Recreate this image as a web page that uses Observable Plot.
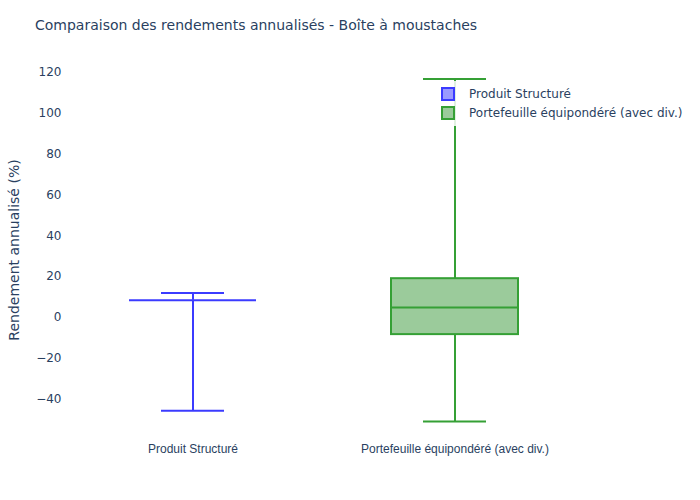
<!DOCTYPE html>
<html>
<head>
<meta charset="utf-8">
<script src="https://cdn.jsdelivr.net/npm/d3@7"></script>
<script src="https://cdn.jsdelivr.net/npm/@observablehq/plot@0.6"></script>
<style>
  body { margin:0; width:700px; height:500px; position:relative; background:#fff; font-family:"DejaVu Sans", sans-serif; overflow:hidden; }
  #title { position:absolute; left:35px; top:16px; font-size:14px; line-height:18px; color:#2a3f5f; white-space:nowrap; }
  #chart { position:absolute; left:0; top:45px; }
  #legend { position:absolute; left:435px; top:81px; width:262px; padding:3px 0 4px 0; background:rgba(255,255,255,0.85); font-size:12px; color:#2a3f5f; }
  .item { display:flex; align-items:center; height:19px; }
  .sw { width:10px; height:10px; margin-left:6px; margin-right:14px; border:2px solid; box-sizing:content-box; }
</style>
</head>
<body>
<div id="title">Comparaison des rendements annualisés - Boîte à moustaches</div>
<div id="chart"></div>
<div id="legend"></div>
<script>
const categories = ["Produit Structuré", "Portefeuille équipondéré (avec div.)"];
const lowerWhisker = [-45.4, -50.7];
const q1 = [8.5, -8.3];
const median = [8.5, 4.9];
const q3 = [8.5, 19.0];
const upperWhisker = [12.0, 116.4];
const yTicks = [-40, -20, 0, 20, 40, 60, 80, 100, 120];
const strokeColors = ["#3b3bff", "#35a035"];
const fillColors = ["#9a9aff", "#9bcb9b"];

const rows = categories.map((c, i) => ({
  cat: c, low: lowerWhisker[i], q1: q1[i], med: median[i], q3: q3[i], high: upperWhisker[i],
  stroke: strokeColors[i], fill: fillColors[i]
}));

const plot = Plot.plot({
  width: 700,
  height: 455,
  marginTop: 16,
  marginBottom: 62,
  marginLeft: 62,
  marginRight: 114,
  style: { fontFamily: "DejaVu Sans, sans-serif", fontSize: "12px", color: "#2a3f5f", background: "transparent" },
  x: { domain: categories, paddingInner: 0.515, paddingOuter: 0.2575 },
  y: { domain: [-59, 125] },
  marks: [
    Plot.axisY({ ticks: yTicks, tickSize: 0, tickPadding: 1, label: "Rendement annualisé (%)", labelAnchor: "center", labelOffset: 53, labelArrow: "none" }),
    Plot.axisX({ tickSize: 0, tickPadding: 6, label: null, fontFamily: "Liberation Sans, Arial, sans-serif" }),
    Plot.ruleX(rows, { x: "cat", y1: "low", y2: "q1", stroke: d => d.stroke, strokeWidth: 2 }),
    Plot.ruleX(rows, { x: "cat", y1: "q3", y2: "high", stroke: d => d.stroke, strokeWidth: 2 }),
    Plot.barY(rows, { x: "cat", y1: "q1", y2: "q3", fill: d => d.fill, stroke: d => d.stroke, strokeWidth: 2 }),
    Plot.tickY(rows, { x: "cat", y: "med", stroke: d => d.stroke, strokeWidth: 2 }),
    Plot.tickY(rows, { x: "cat", y: "low", stroke: d => d.stroke, strokeWidth: 2, insetLeft: 32, insetRight: 32 }),
    Plot.tickY(rows, { x: "cat", y: "high", stroke: d => d.stroke, strokeWidth: 2, insetLeft: 32, insetRight: 32 })
  ]
});
document.getElementById("chart").appendChild(plot);
plot.querySelectorAll('[aria-label="y-axis label"] text, [aria-label="y-axis label"]').forEach(t => t.style.fontSize = "14px");

const legend = document.getElementById("legend");
categories.forEach((c, i) => {
  const it = document.createElement("div");
  it.className = "item";
  const sw = document.createElement("div");
  sw.className = "sw";
  sw.style.background = fillColors[i];
  sw.style.borderColor = strokeColors[i];
  const tx = document.createElement("span");
  tx.textContent = c;
  it.appendChild(sw); it.appendChild(tx);
  legend.appendChild(it);
});
</script>
</body>
</html>
